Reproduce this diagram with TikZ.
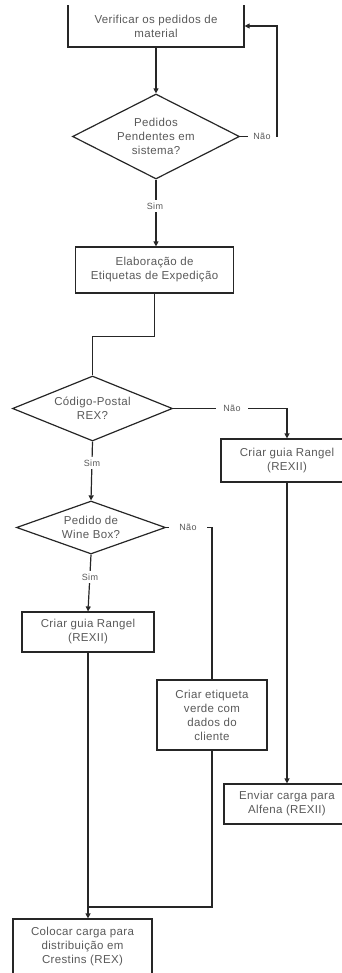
\documentclass[tikz,border=0pt]{standalone}
\usepackage{fontspec}
\setmainfont{Liberation Sans}[LetterSpace=3]
\usetikzlibrary{arrows.meta,shapes.geometric}

\begin{document}
\begin{tikzpicture}[x=1pt,y=-1pt,
  every node/.style={font=\fontsize{11.5}{14}\selectfont, text=black!65, align=center},
  stepbox/.style={draw=black!85, line width=1.2pt, rectangle, inner sep=0pt},
  decision/.style={draw=black!85, line width=1.2pt, diamond, inner sep=0pt},
  lbl/.style={font=\fontsize{9}{10}\selectfont, fill=white, inner ysep=3pt},
  flow/.style={draw=black!85, line width=1.2pt},
  arr/.style={flow, -{Triangle[length=5pt,width=5pt]}}
]
\useasboundingbox (0,0) rectangle (342,973);
\clip (0,6) rectangle (342,973);

% process boxes (the first one runs past the upper edge of the sheet)
\node[stepbox, minimum width=176pt, minimum height=70pt] (b1) at (156,12) {};
\node (b1t) at (156,26) {Verificar os pedidos de\\material};
\node[stepbox, minimum width=158pt, minimum height=46pt] (b2) at (154.5,270) {Elaboração de\\Etiquetas de Expedição};
\node[stepbox, minimum width=132pt, minimum height=43pt] (b3) at (287,460.5) {Criar guia Rangel\\(REXII)};
\node[stepbox, minimum width=132pt, minimum height=40pt] (b4) at (88,632) {Criar guia Rangel\\(REXII)};
\node[stepbox, minimum width=110pt, minimum height=70pt] (b5) at (212,715) {Criar etiqueta\\verde com\\dados do\\cliente};
\node[stepbox, minimum width=126pt, minimum height=40pt] (b6) at (287,804) {Enviar carga para\\Alfena (REXII)};
\node[stepbox, minimum width=139pt, minimum height=56pt] (b7) at (82.5,947) {Colocar carga para\\distribuição em\\Crestins (REX)};

% decisions
\node[decision, minimum width=167pt, minimum height=85pt] (d1) at (156,136.5) {};
\node (d1t) at (d1) {Pedidos\\Pendentes em\\sistema?};
\node[decision, minimum width=160pt, minimum height=65pt] (d2) at (92.5,408.5) {};
\node (d2t) at (d2) {Código-Postal\\REX?};
\node[decision, minimum width=149pt, minimum height=53pt] (d3) at (91,527.5) {};
\node (d3t) at (d3) {Pedido de\\Wine Box?};

% connectors
\coordinate (loop) at (277,136.5);
\coordinate (join) at (88,907);
\draw[arr] (b1.south) -- (d1.north);
\draw[arr] (d1.east) -- (loop) |- (b1t -| b1.east);
\draw[arr] (d1.south) -- (d1.south |- b2.north);
\draw[flow] (b2.south) -- ++(0,43) -| (d2.north);
\draw[arr] (d2.east) -| (b3.north);
\draw[arr] (d2.south) -- (d3.north);
\draw[flow] (d3.east) -| (b5.north);
\draw[arr] (d3.south) -- (b4.north);
\draw[arr] (b4.south) -- (b4.south |- b7.north);
\draw[flow] (b5.south) |- (join);
\draw[arr] (b3.south) -- (b3.south |- b6.north);

% branch labels
\node[lbl, inner xsep=5pt] (n1) at (262,136.5) {Não};
\node[lbl] (s1) at (155,206) {Sim};
\node[lbl, inner xsep=7pt] (n2) at (232,408.5) {Não};
\node[lbl] (s2) at (92,463) {Sim};
\node[lbl, inner xsep=10pt] (n3) at (188,527.5) {Não};
\node[lbl] (s3) at (90,577) {Sim};
\end{tikzpicture}
\end{document}
